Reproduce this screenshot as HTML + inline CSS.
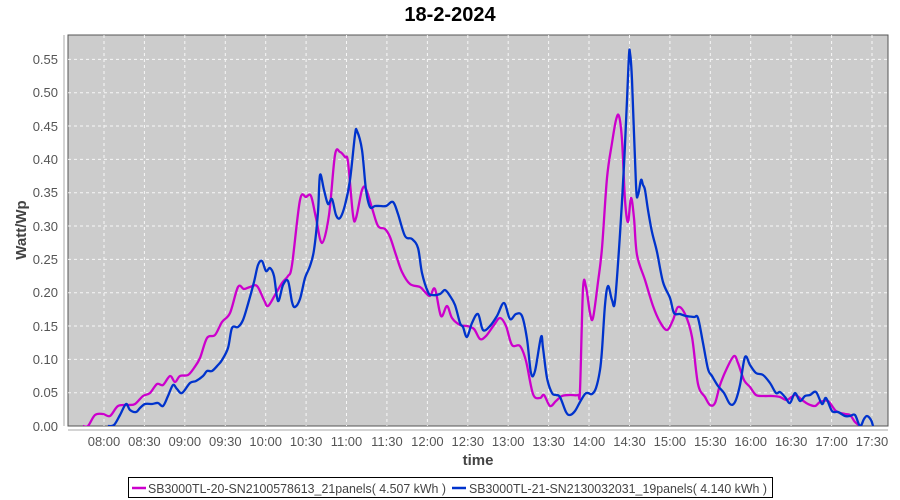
<!DOCTYPE html>
<html><head><meta charset="utf-8"><style>
body{margin:0;background:#fff;}
svg{display:block;font-family:"Liberation Sans",sans-serif;}
</style></head><body>
<svg width="900" height="500" xmlns="http://www.w3.org/2000/svg">
<text x="450" y="21" text-anchor="middle" font-size="20" font-weight="bold" fill="#000">18-2-2024</text>
<rect x="68" y="35" width="820" height="391" fill="#cccccc" stroke="#555" stroke-width="1"/>
<g stroke="#fff" stroke-dasharray="3,3" stroke-width="1" opacity="0.85">
<line x1="68" x2="888" y1="392.7" y2="392.7"/><line x1="68" x2="888" y1="359.4" y2="359.4"/><line x1="68" x2="888" y1="326" y2="326"/><line x1="68" x2="888" y1="292.7" y2="292.7"/><line x1="68" x2="888" y1="259.4" y2="259.4"/><line x1="68" x2="888" y1="226" y2="226"/><line x1="68" x2="888" y1="192.7" y2="192.7"/><line x1="68" x2="888" y1="159.4" y2="159.4"/><line x1="68" x2="888" y1="126" y2="126"/><line x1="68" x2="888" y1="92.7" y2="92.7"/><line x1="68" x2="888" y1="59.4" y2="59.4"/>
<line y1="35" y2="426" x1="104" x2="104"/><line y1="35" y2="426" x1="144.4" x2="144.4"/><line y1="35" y2="426" x1="184.8" x2="184.8"/><line y1="35" y2="426" x1="225.3" x2="225.3"/><line y1="35" y2="426" x1="265.7" x2="265.7"/><line y1="35" y2="426" x1="306.1" x2="306.1"/><line y1="35" y2="426" x1="346.5" x2="346.5"/><line y1="35" y2="426" x1="386.9" x2="386.9"/><line y1="35" y2="426" x1="427.4" x2="427.4"/><line y1="35" y2="426" x1="467.8" x2="467.8"/><line y1="35" y2="426" x1="508.2" x2="508.2"/><line y1="35" y2="426" x1="548.6" x2="548.6"/><line y1="35" y2="426" x1="589" x2="589"/><line y1="35" y2="426" x1="629.5" x2="629.5"/><line y1="35" y2="426" x1="669.9" x2="669.9"/><line y1="35" y2="426" x1="710.3" x2="710.3"/><line y1="35" y2="426" x1="750.7" x2="750.7"/><line y1="35" y2="426" x1="791.1" x2="791.1"/><line y1="35" y2="426" x1="831.6" x2="831.6"/><line y1="35" y2="426" x1="872" x2="872"/>
</g>
<line x1="64" y1="35" x2="64" y2="426" stroke="#aaa"/>
<line x1="68" y1="430" x2="888" y2="430" stroke="#aaa"/>
<g font-size="13" fill="#555" text-anchor="end">
<text x="58" y="431">0.00</text><text x="58" y="397">0.05</text><text x="58" y="364">0.10</text><text x="58" y="331">0.15</text><text x="58" y="297">0.20</text><text x="58" y="264">0.25</text><text x="58" y="231">0.30</text><text x="58" y="197">0.35</text><text x="58" y="164">0.40</text><text x="58" y="131">0.45</text><text x="58" y="97">0.50</text><text x="58" y="64">0.55</text>
</g>
<g font-size="13" fill="#555" text-anchor="middle">
<text x="104" y="446">08:00</text><text x="144.4" y="446">08:30</text><text x="184.8" y="446">09:00</text><text x="225.3" y="446">09:30</text><text x="265.7" y="446">10:00</text><text x="306.1" y="446">10:30</text><text x="346.5" y="446">11:00</text><text x="386.9" y="446">11:30</text><text x="427.4" y="446">12:00</text><text x="467.8" y="446">12:30</text><text x="508.2" y="446">13:00</text><text x="548.6" y="446">13:30</text><text x="589" y="446">14:00</text><text x="629.5" y="446">14:30</text><text x="669.9" y="446">15:00</text><text x="710.3" y="446">15:30</text><text x="750.7" y="446">16:00</text><text x="791.1" y="446">16:30</text><text x="831.6" y="446">17:00</text><text x="872" y="446">17:30</text>
</g>
<text x="478" y="465" text-anchor="middle" font-size="15" font-weight="bold" fill="#444">time</text>
<text transform="translate(26,230) rotate(-90)" text-anchor="middle" font-size="15" font-weight="bold" fill="#444">Watt/Wp</text>
<svg x="68" y="35" width="820" height="391" viewBox="68 35 820 391" overflow="hidden">
<polyline class="s" fill="none" stroke="#cc00cc" stroke-width="2.3" stroke-linejoin="round" points="83,426 88,426 95,415 103,414 110,416 118,406 128,405 135,404 143,396 150,393 157,384 163,385 170,376 175,382 180,376 188,375 194,368 200,358 207,338 215,335 222,322 230,313 238,287 244,289 250,287 257,286 264,300 268,306 275,295 282,283 288,276 292,265 300,200 306,197 311,196 316,218 322,243 329,215 335,155 340,152 345,157 348,162 353,215 356,218 362,190 366,189 372,208 378,226 385,229 390,237 396,255 402,272 410,284 420,287 425,292 430,296 435,289 441,316 447,306 452,318 460,325 467,326 474,329 480,339 486,336 494,325 500,318 506,326 512,345 520,346 526,361 533,394 540,398 544,395 550,406 556,401 562,396 570,395 578,395 580,390 583,289 586,287 590,313 593,318 598,282 602,248 607,178 612,143 616,120 619,116 622,140 625,200 628,222 631,198 634,218 637,255 645,280 653,306 660,322 667,330 673,320 678,307 685,314 692,337 698,384 705,397 710,405 715,403 720,385 727,368 734,356 738,363 744,380 750,387 756,395 764,396 772,396 780,397 787,400 795,395 802,400 808,404 815,406 820,402 828,401 836,411 845,414 850,415 855,422 860,426"/>
<polyline class="s" fill="none" stroke="#0033cc" stroke-width="2.3" stroke-linejoin="round" points="108,426 114,425 120,415 126,404 130,410 136,412 140,408 145,404 152,404 158,403 163,406 168,396 173,385 177,389 182,393 190,383 196,381 203,376 207,371 212,371 218,365 222,360 228,348 232,328 238,327 243,320 248,304 254,282 258,265 262,261 266,271 270,268 274,276 278,301 283,285 288,281 292,302 295,307 300,299 305,278 310,266 314,250 318,212 320,175 324,190 328,204 332,199 336,215 340,218 345,205 350,180 355,135 357,131 362,150 366,190 370,207 375,206 380,206 386,206 393,202 398,214 405,236 412,239 418,248 422,273 428,292 432,295 440,294 445,290 450,296 455,305 460,323 463,327 467,337 472,323 478,314 483,330 490,326 497,316 504,303 510,319 516,314 522,316 527,339 531,373 535,371 541,337 543,348 547,378 552,393 556,395 560,397 566,412 570,415 575,411 580,402 585,394 588,393 592,394 596,388 600,370 602,350 605,305 608,286 612,300 615,301 620,234 624,165 627,100 629,55 630,53 632,80 636,185 638,195 641,180 643,185 645,190 648,210 652,232 657,252 663,282 670,298 674,313 680,314 686,316 694,317 698,318 703,343 708,369 712,376 718,386 724,393 730,404 735,402 740,385 745,357 750,365 756,373 763,375 770,383 776,393 780,392 785,397 790,403 795,393 800,401 805,396 810,395 816,392 822,404 826,398 832,411 838,412 845,416 850,416 855,415 860,426 864,419 867,416 871,420 873,426"/>
</svg>
<rect x="128.5" y="477.5" width="644" height="20" fill="#fff" stroke="#000"/>
<line x1="132" y1="488" x2="146" y2="488" stroke="#cc00cc" stroke-width="2.5"/>
<text x="148" y="493" font-size="13" fill="#444" textLength="298" lengthAdjust="spacingAndGlyphs">SB3000TL-20-SN2100578613_21panels( 4.507 kWh )</text>
<line x1="452" y1="488" x2="466" y2="488" stroke="#0033cc" stroke-width="2.5"/>
<text x="469" y="493" font-size="13" fill="#444" textLength="298" lengthAdjust="spacingAndGlyphs">SB3000TL-21-SN2130032031_19panels( 4.140 kWh )</text>
</svg>
<script>
document.querySelectorAll('polyline.s').forEach(function(pl){
  var p=pl.getAttribute('points').trim().split(/\s+/).map(function(s){return s.split(',').map(Number);});
  var d='M'+p[0][0]+','+p[0][1];
  for(var i=0;i<p.length-1;i++){
    var p0=p[i-1]||p[i],p1=p[i],p2=p[i+1],p3=p[i+2]||p2;
    var c1x=p1[0]+(p2[0]-p0[0])/6,c1y=p1[1]+(p2[1]-p0[1])/6;
    var c2x=p2[0]-(p3[0]-p1[0])/6,c2y=p2[1]-(p3[1]-p1[1])/6;
    d+=' C'+c1x+','+c1y+' '+c2x+','+c2y+' '+p2[0]+','+p2[1];
  }
  var path=document.createElementNS('http://www.w3.org/2000/svg','path');
  ['fill','stroke','stroke-width','stroke-linejoin'].forEach(function(a){path.setAttribute(a,pl.getAttribute(a));});
  path.setAttribute('d',d);
  pl.parentNode.replaceChild(path,pl);
});
</script>
</body></html>
